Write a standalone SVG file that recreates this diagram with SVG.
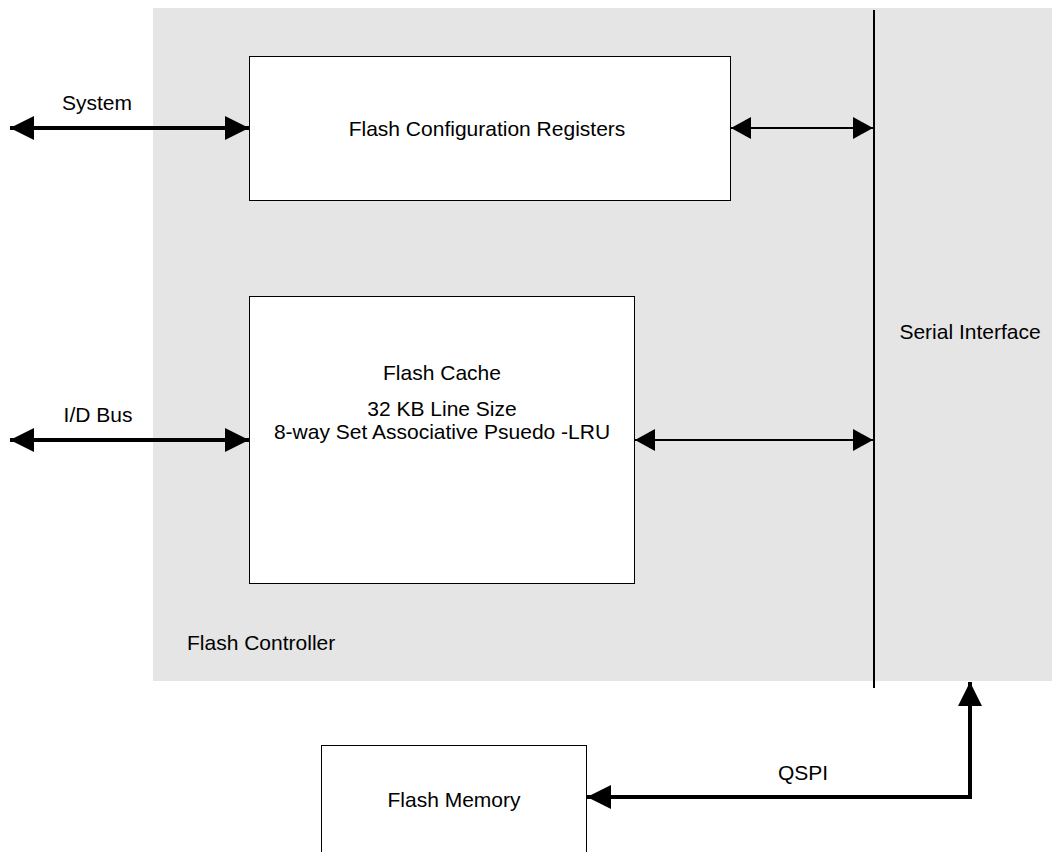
<svg xmlns="http://www.w3.org/2000/svg" width="1052" height="852" viewBox="0 0 1052 852">
<style>
text{font-family:"Liberation Sans",Arial,sans-serif;font-size:21px;fill:#000}
.box{fill:#fff;stroke:#000;stroke-width:1}
.thick{stroke:#000;stroke-width:4;fill:none}
.thin{stroke:#000;stroke-width:2;fill:none}
</style>
<defs>
<marker id="hb" viewBox="0 0 24 24" refX="24" refY="12" markerWidth="24" markerHeight="24" markerUnits="userSpaceOnUse" orient="auto-start-reverse"><path d="M0,0L24,12L0,24z" fill="#000"/></marker>
<marker id="hs" viewBox="0 0 20 22" refX="20" refY="11" markerWidth="20" markerHeight="22" markerUnits="userSpaceOnUse" orient="auto-start-reverse"><path d="M0,0L20,11L0,22z" fill="#000"/></marker>
</defs>
<g id="flash-controller">
<rect x="153" y="8" width="899" height="673" fill="#e5e5e5"/>
<text x="187" y="650">Flash Controller</text>
</g>
<g id="serial-interface">
<line x1="874" y1="10" x2="874" y2="688" stroke="#000" stroke-width="2"/>
<text x="970" y="339" text-anchor="middle">Serial Interface</text>
</g>
<g id="config-registers">
<rect class="box" x="249.5" y="56.5" width="481" height="144"/>
<text x="487" y="136" text-anchor="middle">Flash Configuration Registers</text>
</g>
<g id="flash-cache">
<rect class="box" x="249.5" y="296.5" width="385" height="287"/>
<text x="442" y="380" text-anchor="middle">Flash Cache</text>
<text x="442" y="416" text-anchor="middle">32 KB Line Size</text>
<text x="442" y="439" text-anchor="middle">8-way Set Associative Psuedo -LRU</text>
</g>
<g id="flash-memory">
<rect class="box" x="321.5" y="745.5" width="265" height="120"/>
<text x="454" y="807" text-anchor="middle">Flash Memory</text>
</g>
<g id="connectors">
<line class="thick" x1="10" y1="128" x2="249" y2="128" marker-start="url(#hb)" marker-end="url(#hb)"/>
<line class="thick" x1="10" y1="440" x2="249" y2="440" marker-start="url(#hb)" marker-end="url(#hb)"/>
<line class="thin" x1="731" y1="128" x2="873" y2="128" marker-start="url(#hs)" marker-end="url(#hs)"/>
<line class="thin" x1="635" y1="440" x2="873" y2="440" marker-start="url(#hs)" marker-end="url(#hs)"/>
<polyline class="thick" points="970,682 970,797 587,797" marker-start="url(#hb)" marker-end="url(#hb)"/>
<text x="97" y="110" text-anchor="middle">System</text>
<text x="98" y="422" text-anchor="middle">I/D Bus</text>
<text x="803" y="780" text-anchor="middle">QSPI</text>
</g>
</svg>
